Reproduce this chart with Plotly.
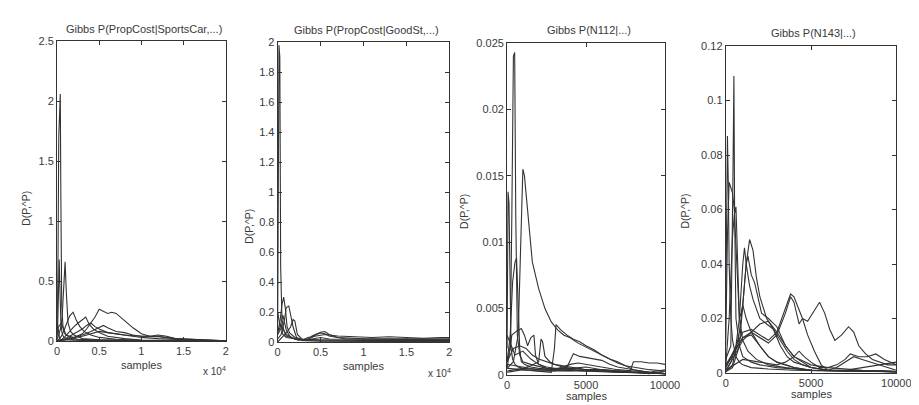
import plotly.graph_objects as go

W, H = 919, 405
LINE = "#333333"
TEXT = "#3a3a3a"
FONT = "Liberation Sans, Arial, sans-serif"

titles = ["Gibbs P(PropCost|SportsCar,...)", "Gibbs P(PropCost|GoodSt,...)",
          "Gibbs P(N112|...)", "Gibbs P(N143|...)"]

# panel 1: P(PropCost|SportsCar,...)
sports_x = [
    [0, 100, 200, 300, 380, 450, 550, 700, 1000, 1500, 2500, 4000, 6000, 10000, 20000],
    [0, 100, 250, 350, 450, 600, 800, 1200, 2000, 4000, 8000, 20000],
    [0, 200, 400, 600, 800, 950, 1100, 1300, 1600, 2000, 3000, 5000, 10000, 20000],
    [0, 300, 600, 900, 1200, 1500, 1900, 2300, 2700, 3200, 4000, 5000, 7000, 10000, 20000],
    [0, 500, 1000, 1500, 2000, 2500, 3000, 3400, 3800, 4300, 5000, 6000, 8000, 10000, 20000],
    [0, 1000, 2000, 3000, 3500, 4000, 4500, 5000, 5500, 6000, 6500, 7000, 8000, 9000, 10000,
     11000, 12000, 13000, 14000, 15000, 16000, 20000],
    [0, 1000, 2000, 3000, 3500, 4000, 4500, 5000, 6000, 7000, 8000, 10000, 12000, 14000, 20000],
    [0, 1000, 2000, 3000, 4000, 5000, 5500, 6000, 7000, 8000, 9000, 10000, 11000, 12000, 13000, 14000, 20000],
    [0, 500, 1000, 2000, 3000, 4000, 5000, 6000, 8000, 10000, 12000, 15000, 20000],
    [0, 100, 200, 300, 500, 800, 1500, 3000, 6000, 20000],
]
sports_y = [
    [0.05, 0.6, 1.7, 2.0, 2.06, 1.2, 0.3, 0.12, 0.06, 0.03, 0.015, 0.01, 0.006, 0.003, 0.001],
    [0.02, 0.2, 0.68, 0.4, 0.15, 0.06, 0.03, 0.02, 0.01, 0.005, 0.002, 0.001],
    [0.01, 0.05, 0.1, 0.2, 0.5, 0.66, 0.4, 0.15, 0.08, 0.05, 0.02, 0.01, 0.004, 0.001],
    [0, 0.02, 0.05, 0.1, 0.16, 0.21, 0.24, 0.17, 0.12, 0.08, 0.05, 0.03, 0.015, 0.006, 0.001],
    [0, 0.01, 0.04, 0.08, 0.12, 0.15, 0.18, 0.2, 0.14, 0.1, 0.07, 0.04, 0.02, 0.008, 0.001],
    [0, 0.01, 0.03, 0.06, 0.1, 0.15, 0.2, 0.265, 0.25, 0.23, 0.24, 0.23, 0.17, 0.11, 0.06,
     0.04, 0.035, 0.03, 0.02, 0.01, 0.005, 0.002],
    [0, 0.02, 0.06, 0.1, 0.13, 0.15, 0.12, 0.1, 0.07, 0.06, 0.05, 0.04, 0.04, 0.02, 0.002],
    [0, 0.01, 0.03, 0.05, 0.08, 0.11, 0.13, 0.11, 0.08, 0.07, 0.05, 0.04, 0.04, 0.05, 0.04, 0.02, 0.001],
    [0.1, 0.15, 0.05, 0.03, 0.04, 0.06, 0.08, 0.07, 0.05, 0.03, 0.02, 0.01, 0.001],
    [0.17, 0.12, 0.05, 0.02, 0.01, 0.01, 0.005, 0.005, 0.003, 0.001],
]

# panel 2: P(PropCost|GoodSt,...)
goodst_x = [
    [0, 80, 150, 250, 350, 500, 700, 1000, 2000, 5000, 10000, 20000],
    [0, 300, 500, 700, 900, 1100, 1400, 2000, 3000, 4000, 5000, 6000, 8000, 12000, 16000, 20000],
    [0, 400, 800, 1000, 1300, 1600, 1800, 2200, 3000, 4000, 4500, 5000, 5500, 6000, 7000, 8000,
     10000, 14000, 20000],
    [0, 500, 1000, 1500, 1800, 2000, 2300, 2800, 3500, 4000, 5000, 5500, 6000, 7000, 8000, 9000,
     10000, 12000, 15000, 17000, 20000],
    [0, 200, 400, 600, 1000, 2000, 3000, 3500, 4500, 5500, 7000, 9000, 11000, 13000, 15000, 17000,
     19000, 20000],
    [0, 500, 1000, 2000, 4000, 6000, 8000, 12000, 16000, 20000],
    [0, 300, 600, 1000, 1500, 2500, 5000, 10000, 15000, 20000],
]
goodst_y = [
    [0.1, 1.2, 1.98, 1.9, 0.5, 0.15, 0.08, 0.04, 0.02, 0.015, 0.01, 0.01],
    [0.05, 0.15, 0.25, 0.3, 0.22, 0.1, 0.06, 0.03, 0.01, 0.02, 0.03, 0.02, 0.02, 0.015, 0.02, 0.015],
    [0.02, 0.05, 0.15, 0.23, 0.24, 0.15, 0.1, 0.03, 0.01, 0.03, 0.05, 0.06, 0.055, 0.04, 0.03, 0.02,
     0.02, 0.02, 0.02],
    [0, 0.03, 0.06, 0.1, 0.15, 0.14, 0.05, 0.02, 0.01, 0.04, 0.065, 0.07, 0.05, 0.03, 0.03, 0.025,
     0.02, 0.02, 0.025, 0.02, 0.02],
    [0.1, 0.08, 0.12, 0.05, 0.03, 0.02, 0.015, 0.03, 0.04, 0.05, 0.04, 0.035, 0.03, 0.035, 0.03,
     0.025, 0.03, 0.03],
    [0.05, 0.1, 0.05, 0.02, 0.01, 0.008, 0.006, 0.005, 0.005, 0.004],
    [0.2, 0.1, 0.18, 0.08, 0.03, 0.01, 0.006, 0.004, 0.003, 0.002],
]

# panel 3: P(N112|...)
n112_x = [
    [0, 200, 300, 400, 480, 550, 650, 800, 1000, 1500, 2500, 4000, 6000, 8000, 10000],
    [0, 60, 120, 180, 250, 350, 500, 700, 1000, 2000, 4000, 7000, 10000],
    [0, 200, 350, 500, 600, 700, 800, 900, 1100, 1500, 2000, 3000, 5000, 8000, 10000],
    [0, 400, 700, 900, 1000, 1100, 1300, 1600, 2000, 2400, 2800, 3200, 3600, 4000, 4500, 5000,
     5500, 6000, 6500, 7000, 7500, 8000, 9000, 10000],
    [0, 1000, 2000, 2800, 3000, 3100, 3400, 3800, 4200, 4600, 5000, 5500, 6000, 6500, 7000, 7500,
     8000, 9000, 10000],
    [0, 1000, 1500, 2000, 2150, 2250, 2400, 2700, 3000, 3500, 4000, 4500, 5000, 6000, 7000, 8000,
     9000, 10000],
    [0, 300, 600, 900, 1100, 1300, 1500, 1700, 1800, 2000, 2500, 3000, 4000, 5000, 6000, 8000, 10000],
    [0, 1000, 2000, 3000, 3800, 4200, 4600, 5000, 5500, 6000, 6500, 7000, 8000, 9000, 10000],
    [0, 1000, 2000, 3000, 4000, 5000, 6000, 7000, 7800, 8000, 8500, 9000, 9500, 10000],
    [0, 500, 1000, 1500, 2000, 2500, 3000, 3500, 4000, 4500, 5000, 5500, 6000, 7000, 8000, 9000, 10000],
    [0, 400, 800, 1200, 1600, 2000, 3000, 4000, 5000, 6000, 7000, 8000, 9000, 10000],
]
n112_y = [
    [0.001, 0.002, 0.012, 0.024, 0.0243, 0.012, 0.003, 0.0015, 0.001, 0.0008, 0.0005, 0.0004,
     0.0003, 0.0002, 0.0001],
    [0.002, 0.0138, 0.013, 0.006, 0.002, 0.0012, 0.0008, 0.0006, 0.0005, 0.0004, 0.0003, 0.0002, 0.0001],
    [0.001, 0.003, 0.007, 0.0085, 0.0088, 0.006, 0.002, 0.001, 0.0008, 0.0006, 0.0005, 0.0004,
     0.0003, 0.0002, 0.0001],
    [0.0005, 0.001, 0.003, 0.012, 0.0155, 0.015, 0.0125, 0.0085, 0.0065, 0.005, 0.004, 0.0034,
     0.003, 0.0028, 0.0024, 0.0021, 0.0018, 0.0015, 0.0012, 0.001, 0.0007, 0.0004, 0.0002, 0.0001],
    [0.0005, 0.0004, 0.0003, 0.0002, 0.002, 0.0038, 0.0034, 0.003, 0.0027, 0.0025, 0.0022, 0.0019,
     0.0015, 0.0012, 0.0009, 0.0007, 0.0006, 0.0004, 0.0003],
    [0.0003, 0.0005, 0.0007, 0.001, 0.0027, 0.0025, 0.0014, 0.001, 0.0008, 0.0006, 0.0005, 0.0005,
     0.0004, 0.0003, 0.0003, 0.0002, 0.0002, 0.0001],
    [0.0005, 0.003, 0.0033, 0.0035, 0.003, 0.0022, 0.0028, 0.003, 0.0015, 0.0008, 0.0006, 0.0005,
     0.0005, 0.0006, 0.0004, 0.0002, 0.0001],
    [0.0002, 0.0004, 0.0003, 0.0003, 0.0006, 0.0016, 0.0014, 0.0013, 0.0012, 0.0011, 0.0008,
     0.0006, 0.0004, 0.0002, 0.0001],
    [0.0008, 0.0006, 0.0004, 0.0003, 0.0003, 0.0004, 0.0004, 0.0003, 0.0003, 0.001, 0.001, 0.0009,
     0.0009, 0.0008],
    [0.003, 0.0015, 0.0018, 0.0012, 0.0008, 0.0005, 0.0004, 0.0006, 0.0008, 0.0009, 0.0008, 0.0007,
     0.0006, 0.0004, 0.0003, 0.0002, 0.0004],
    [0.001, 0.002, 0.0022, 0.002, 0.0015, 0.0012, 0.0008, 0.0006, 0.0004, 0.0003, 0.0002, 0.0002,
     0.0001, 0.0003],
]

# panel 4: P(N143|...)
n143_x = [
    [0, 300, 420, 480, 520, 600, 800, 1000, 1500, 2000, 3000, 5000, 7000, 10000],
    [0, 50, 100, 150, 200, 300, 400, 600, 800, 1000, 1500, 2500, 4000, 6000, 10000],
    [0, 100, 200, 300, 400, 500, 600, 700, 800, 1000, 1300, 1800, 2500, 3500, 5000, 7000, 10000],
    [0, 200, 400, 500, 600, 700, 800, 900, 1000, 1200, 1500, 2000, 2500, 3000, 4000, 5000, 7000, 10000],
    [0, 300, 600, 800, 1000, 1100, 1200, 1400, 1600, 2000, 2400, 2800, 3200, 3600, 4000, 5000,
     6000, 8000, 10000],
    [0, 400, 800, 1000, 1200, 1400, 1600, 1800, 2000, 2400, 2800, 3200, 3600, 4000, 4500, 5000,
     6000, 8000, 10000],
    [0, 400, 800, 1000, 1200, 1300, 1500, 1700, 1900, 2100, 2500, 3000, 3500, 4000, 5000, 6000, 8000, 10000],
    [0, 1000, 1500, 2000, 2500, 3000, 3400, 3800, 4000, 4200, 4500, 4800, 5200, 5500, 5800, 6100,
     6400, 6800, 7200, 7500, 7800, 8200, 8600, 9000, 9500, 10000],
    [0, 1000, 1500, 2000, 2500, 3000, 3500, 3800, 4000, 4300, 4500, 4800, 5200, 5600, 6000, 7000,
     8000, 9000, 10000],
    [0, 1000, 2000, 3000, 3500, 4000, 4300, 4600, 5000, 5500, 6000, 6500, 7000, 7300, 7800, 8300,
     8800, 9300, 10000],
    [0, 1000, 1500, 2000, 2500, 3000, 3500, 4000, 5000, 6000, 6500, 7000, 7500, 8000, 8500, 9000, 9500, 10000],
    [0, 1000, 2000, 2500, 3000, 3500, 4000, 4500, 5000, 6000, 7000, 8000, 9000, 10000],
]
n143_y = [
    [0.005, 0.01, 0.07, 0.109, 0.06, 0.02, 0.01, 0.006, 0.004, 0.003, 0.002, 0.001, 0.0008, 0.0005],
    [0.02, 0.06, 0.087, 0.07, 0.04, 0.02, 0.012, 0.006, 0.004, 0.003, 0.002, 0.0015, 0.001, 0.0008, 0.0005],
    [0.01, 0.05, 0.07, 0.068, 0.066, 0.06, 0.045, 0.03, 0.02, 0.012, 0.008, 0.005, 0.003, 0.002,
     0.001, 0.0008, 0.0005],
    [0.002, 0.02, 0.05, 0.058, 0.061, 0.04, 0.02, 0.022, 0.025, 0.02, 0.015, 0.01, 0.006, 0.004,
     0.002, 0.001, 0.0008, 0.0005],
    [0.001, 0.004, 0.01, 0.02, 0.04, 0.046, 0.04, 0.032, 0.027, 0.02, 0.018, 0.016, 0.01, 0.006,
     0.004, 0.002, 0.001, 0.0008, 0.0005],
    [0.0005, 0.003, 0.015, 0.025, 0.04, 0.049, 0.045, 0.035, 0.028, 0.02, 0.016, 0.012, 0.008,
     0.005, 0.003, 0.002, 0.001, 0.0008, 0.0005],
    [0.0005, 0.002, 0.01, 0.025, 0.04, 0.043, 0.036, 0.033, 0.028, 0.022, 0.02, 0.017, 0.01, 0.006,
     0.003, 0.002, 0.001, 0.0005],
    [0.002, 0.015, 0.016, 0.014, 0.012, 0.015, 0.022, 0.029, 0.028, 0.025, 0.02, 0.019, 0.023,
     0.026, 0.022, 0.016, 0.012, 0.014, 0.017, 0.015, 0.01, 0.007, 0.005, 0.004, 0.003, 0.003],
    [0.003, 0.013, 0.015, 0.013, 0.011, 0.014, 0.022, 0.028, 0.026, 0.018, 0.02, 0.014, 0.008,
     0.003, 0.001, 0.001, 0.0008, 0.0006, 0.0005],
    [0.001, 0.005, 0.004, 0.003, 0.004, 0.006, 0.008, 0.006, 0.004, 0.002, 0.002, 0.003, 0.005,
     0.007, 0.006, 0.006, 0.007, 0.005, 0.003],
    [0.002, 0.013, 0.014, 0.01, 0.006, 0.004, 0.003, 0.002, 0.001, 0.001, 0.002, 0.004, 0.006,
     0.005, 0.004, 0.003, 0.002, 0.001],
    [0.0005, 0.012, 0.018, 0.019, 0.015, 0.01, 0.006, 0.004, 0.002, 0.001, 0.001, 0.002, 0.003, 0.004],
]

panels = [(sports_x, sports_y), (goodst_x, goodst_y), (n112_x, n112_y), (n143_x, n143_y)]

# axes boxes in pixels: left, right, top, bottom
boxes = [(47, 219, 28, 337), (272, 447, 29, 338), (506, 667, 30, 372), (729, 903, 33, 370)]
y_ranges = [(0, 2.5, 0.5), (0, 2, 0.2), (0, 0.025, 0.005), (0, 0.12, 0.02)]
x_max = [20000, 20000, 10000, 10000]


def note(text, px, py, size=11, angle=0):
    # centred text placed by pixel position
    return dict(text=text, x=px / W, y=1 - py / H, xref="paper", yref="paper",
                xanchor="center", yanchor="middle", textangle=angle, showarrow=False,
                font=dict(family=FONT, size=size, color=TEXT))


fig = go.Figure()
annotations = []

for i, ((xs, ys), (l, r, t, b)) in enumerate(zip(panels, boxes)):
    n = i + 1
    xa = "x" if n == 1 else f"x{n}"
    ya = "y" if n == 1 else f"y{n}"
    for sx, sy in zip(xs, ys):
        fig.add_trace(go.Scatter(x=sx, y=sy, mode="lines", xaxis=xa, yaxis=ya,
                                 line=dict(color=LINE, width=1.1), showlegend=False,
                                 hoverinfo="skip"))

    axis_common = dict(showline=True, linecolor=LINE, linewidth=1, mirror="ticks",
                       ticks="inside", ticklen=4, tickcolor=LINE, showgrid=False,
                       zeroline=False, tickfont=dict(family=FONT, size=11, color=TEXT))
    if x_max[i] == 20000:
        xticks = dict(tickvals=[0, 5000, 10000, 15000, 20000],
                      ticktext=["0", "0.5", "1", "1.5", "2"])
    else:
        xticks = dict(tickvals=[0, 5000, 10000], ticktext=["0", "5000", "10000"])
    y0, y1, dy = y_ranges[i]
    fig.update_layout({
        f"xaxis{'' if n == 1 else n}": dict(domain=[l / W, r / W], range=[0, x_max[i]],
                                            anchor=ya, **xticks, **axis_common),
        f"yaxis{'' if n == 1 else n}": dict(domain=[1 - b / H, 1 - t / H], range=[y0, y1],
                                            dtick=dy, tick0=0, anchor=xa, **axis_common),
    })

    cx = (l + r) / 2
    annotations.append(note(titles[i], cx + 3, t - 13))
    annotations.append(note("samples", cx, b + 25 if i < 2 else b + 22))

for px, py in [(15, 200), (242, 219), (462, 203), (687, 203)]:
    annotations.append(note("D(P,^P)", px, py, size=10.5, angle=-90))

for px, py in [(208, 368), (437, 370)]:
    annotations.append(note("x 10<sup>4</sup>", px, py, size=10))

fig.update_layout(width=W, height=H, margin=dict(l=0, r=0, t=0, b=0),
                  paper_bgcolor="white", plot_bgcolor="white", annotations=annotations)

fig.write_html("out.html")
